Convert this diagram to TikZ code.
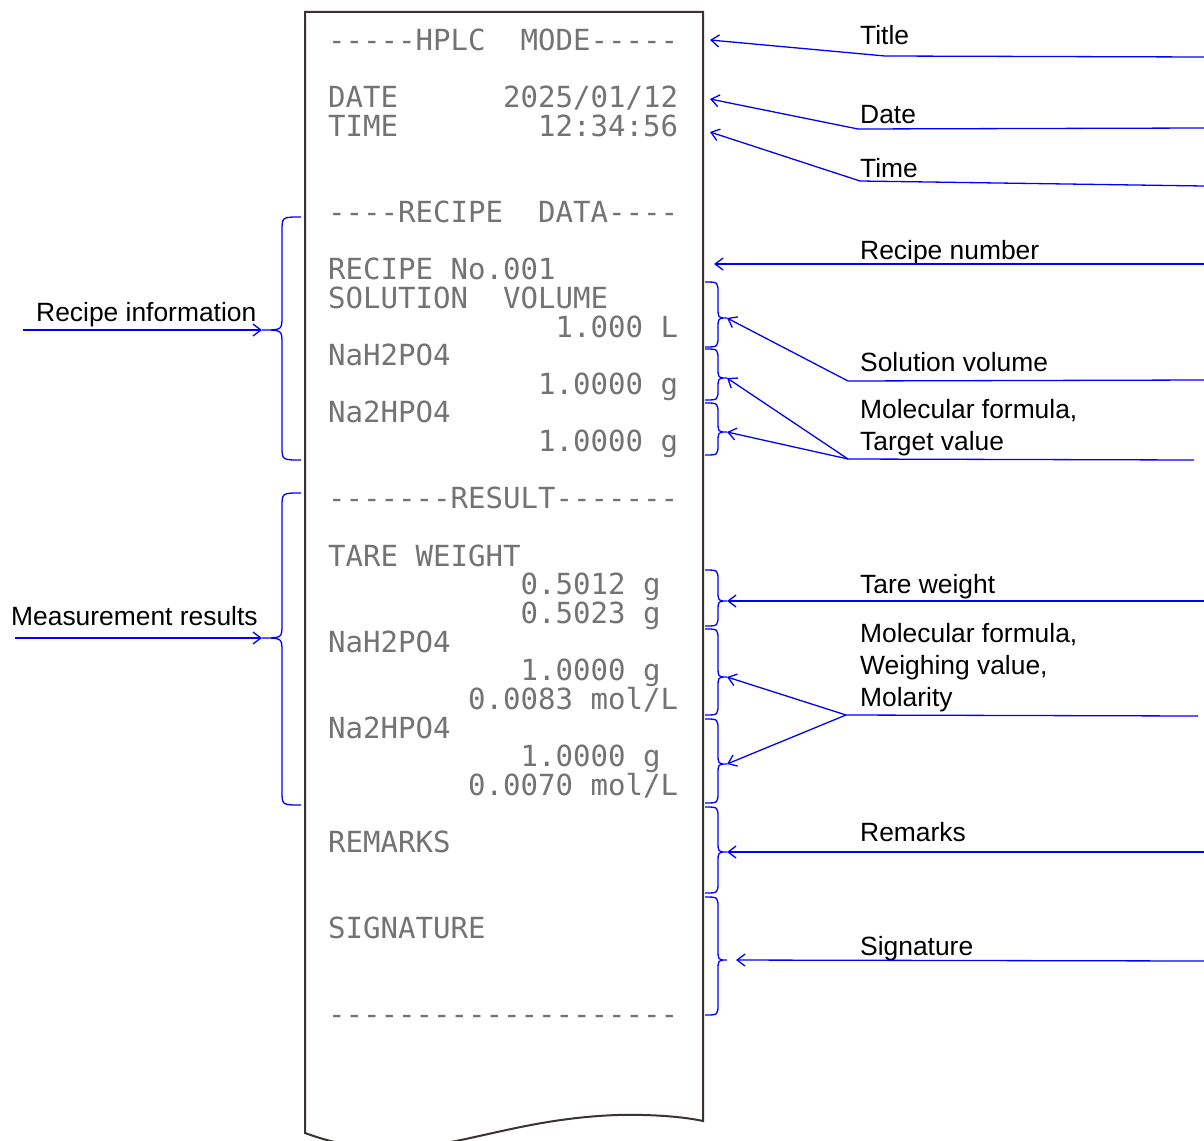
\documentclass[tikz,border=0pt]{standalone}
\usepackage{fontspec}
\setmainfont{Liberation Sans}
\setmonofont{DejaVu Sans Mono}
\usetikzlibrary{arrows.meta}
\definecolor{paperline}{HTML}{3A3230}
\newcommand\rbr[8]{% name, xa, xb, xc, y1, ym, y2, r
  \draw[brc] (#2,#5) .. controls (#3,#5) .. (#3,#5+#8) -- (#3,#6-#8)
    .. controls (#3,#6) .. (#4,#6) .. controls (#3,#6) .. (#3,#6+#8)
    -- (#3,#7-#8) .. controls (#3,#7) .. (#2,#7);
  \coordinate (#1) at (#4,#6);}
\newcommand\prtline[4]{% name, col, row, text
  \node[prt] (#1) at ({328+17.5*#2},{50.5+28.65*#3}) {#4};}
\begin{document}
\begin{tikzpicture}[x=1pt,y=-1pt,
  lbl/.style={font=\fontsize{26.4}{32}\selectfont, anchor=base west, inner sep=0pt},
  prt/.style={font=\ttfamily\fontsize{29.07}{29}\selectfont, text=black!55, anchor=base west, inner sep=0pt},
  ann/.style={blue, line width=1.3pt},
  arr/.style={ann, -{Straight Barb[length=8pt,width=12pt]}},
  brc/.style={blue, line width=1.3pt},
  paper/.style={draw=paperline, fill=white, line width=2pt}]
\clip (0,0) rectangle (1204,1140);
\fill[white] (0,0) rectangle (1204,1140);
% paper
\draw[paper] (305,1133) -- (305,12) -- (703,12) -- (703,1121)
  .. controls (690,1118) and (660,1114) .. (617,1115)
  .. controls (480,1120) and (420,1175) .. (305,1133) -- cycle;
% printout
\prtline{p0}{0}{0}{-----HPLC~~MODE-----}
\prtline{p2a}{0}{2}{DATE}
\prtline{p2b}{10}{2}{2025/01/12}
\prtline{p3a}{0}{3}{TIME}
\prtline{p3b}{12}{3}{12:34:56}
\prtline{p6}{0}{6}{----RECIPE~~DATA----}
\prtline{p8}{0}{8}{RECIPE No.001}
\prtline{p9a}{0}{9}{SOLUTION}
\prtline{p9b}{10}{9}{VOLUME}
\prtline{p10}{13}{10}{1.000 L}
\prtline{p11}{0}{11}{NaH2PO4}
\prtline{p12}{12}{12}{1.0000 g}
\prtline{p13}{0}{13}{Na2HPO4}
\prtline{p14}{12}{14}{1.0000 g}
\prtline{p16}{0}{16}{-------RESULT-------}
\prtline{p18}{0}{18}{TARE WEIGHT}
\prtline{p19}{11}{19}{0.5012 g}
\prtline{p20}{11}{20}{0.5023 g}
\prtline{p21}{0}{21}{NaH2PO4}
\prtline{p22}{11}{22}{1.0000 g}
\prtline{p23}{8}{23}{0.0083 mol/L}
\prtline{p24}{0}{24}{Na2HPO4}
\prtline{p25}{11}{25}{1.0000 g}
\prtline{p26}{8}{26}{0.0070 mol/L}
\prtline{p28}{0}{28}{REMARKS}
\prtline{p31}{0}{31}{SIGNATURE}
\prtline{p34}{0}{34}{--------------------}
% braces right
\rbr{b1}{705}{718}{727}{282}{318}{347}{11}
\rbr{b2}{705}{718}{727}{349}{378}{400}{11}
\rbr{b3}{705}{718}{727}{403}{432}{455}{11}
\rbr{b4}{705}{718}{727}{570}{601}{626}{11}
\rbr{b5}{705}{718}{727}{629}{677}{715}{11}
\rbr{b6}{705}{718}{727}{719}{764}{803}{11}
\rbr{b7}{705}{718}{727}{807}{852}{893}{11}
\rbr{b8}{705}{718}{727}{897}{960}{1015}{11}
% braces left
\rbr{l1}{301}{282}{262}{217}{330}{460}{14}
\rbr{l2}{301}{282}{262}{493}{638}{805}{14}
% labels right
\node[lbl] (tTitle) at (860,45) {Title};
\node[lbl] (tDate) at (860,123) {Date};
\node[lbl] (tTime) at (860,177) {Time};
\node[lbl] (tRecno) at (860,259) {Recipe number};
\node[lbl] (tSol) at (860,371) {Solution volume};
\node[lbl] (tMfa) at (860,418) {Molecular formula,};
\node[lbl] (tMfb) at (860,450) {Target value};
\node[lbl] (tTare) at (860,593) {Tare weight};
\node[lbl] (tMwa) at (860,642) {Molecular formula,};
\node[lbl] (tMwb) at (860,674) {Weighing value,};
\node[lbl] (tMwc) at (860,706) {Molarity};
\node[lbl] (tRem) at (860,841) {Remarks};
\node[lbl] (tSig) at (860,955) {Signature};
% labels left
\node[lbl] (tRinfo) at (36,321) {Recipe information};
\node[lbl] (tMres) at (11,625) {Measurement results};
% connector coordinates
\coordinate (cTitle) at (885,56);   \coordinate (eTitle) at (1204,57);  \coordinate (aTitle) at (710,40);
\coordinate (cDate) at (858,129);   \coordinate (eDate) at (1204,128);  \coordinate (aDate) at (710,99);
\coordinate (cTime) at (860,181);   \coordinate (eTime) at (1204,186);  \coordinate (aTime) at (710,132);
\coordinate (eRecno) at (1204,264); \coordinate (aRecno) at (714,264);
\coordinate (cSol) at (848,381);    \coordinate (eSol) at (1204,380);
\coordinate (cMf) at (848,459);     \coordinate (eMf) at (1194,460);
\coordinate (eTare) at (1204,601);
\coordinate (cMw) at (846,715);     \coordinate (eMw) at (1198,716);
\coordinate (eRem) at (1204,852);
\coordinate (eSig) at (1204,961);
\coordinate (sRinfo) at (23,330);
\coordinate (sMres) at (15,638);
% connectors
\draw[ann] (cTitle) -- (eTitle);
\draw[arr] (cTitle) -- (aTitle);
\draw[ann] (cDate) -- (eDate);
\draw[arr] (cDate) -- (aDate);
\draw[ann] (cTime) -- (eTime);
\draw[arr] (cTime) -- (aTime);
\draw[arr] (eRecno) -- (aRecno);
\draw[ann] (cSol) -- (eSol);
\draw[arr] (cSol) -- (b1);
\draw[ann] (cMf) -- (eMf);
\draw[arr] (cMf) -- (b2);
\draw[arr] (cMf) -- (b3);
\draw[arr] (eTare) -- (b4);
\draw[ann] (cMw) -- (eMw);
\draw[arr] (cMw) -- (b5);
\draw[arr] (cMw) -- (b6);
\draw[arr] (eRem) -- (b7);
\draw[arr, shorten >=9pt] (eSig) -- (b8);
\draw[arr] (sRinfo) -- (l1);
\draw[arr] (sMres) -- (l2);
\end{tikzpicture}
\end{document}
